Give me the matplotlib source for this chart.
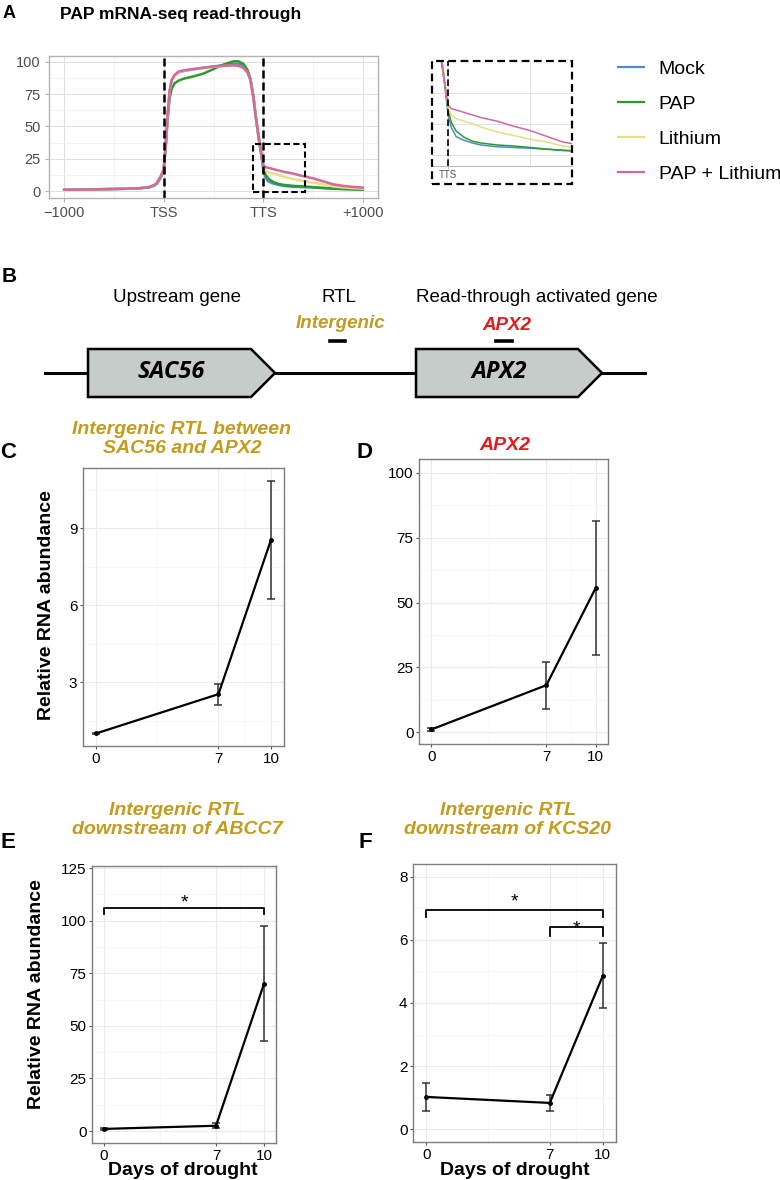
import matplotlib
matplotlib.use("Agg")
import matplotlib.pyplot as plt
from matplotlib.patches import Rectangle, Polygon
from matplotlib.lines import Line2D

plt.rcParams['font.family'] = ['Liberation Sans', 'DejaVu Sans']

W, H = 780, 1180

# ---- Panel A: metagene read-through profiles ----
bins = [0.0, 0.2, 0.4, 0.6, 0.75, 0.85, 0.9, 0.93, 0.96, 0.98, 1.0, 1.02, 1.04, 1.06, 1.08,
        1.11, 1.15, 1.2, 1.3, 1.4, 1.5, 1.6, 1.7, 1.75, 1.8, 1.84, 1.87, 1.9, 1.93, 1.96,
        1.98, 2.0, 2.02, 2.05, 2.1, 2.15, 2.2, 2.3, 2.4, 2.5, 2.6, 2.7, 2.8, 2.9, 3.0]
mock = [1.0, 1.1, 1.4, 1.7, 2.1, 2.9, 4.2, 5.8, 9.5, 12.5, 16.5, 34, 58, 77, 85.5,
        89.5, 92, 93, 94.3, 95.5, 96.5, 97.5, 98.5, 98.5, 97, 93, 86.5, 73, 54, 38,
        28, 16, 11, 7.3, 5.8, 4.8, 4.0, 3.3, 3.0, 2.7, 2.3, 1.8, 1.5, 1.3, 1.1]
pap = [1.0, 1.1, 1.4, 1.7, 2.0, 2.8, 4.0, 5.5, 9.0, 12.0, 16.0, 33, 55, 72, 79,
       83.5, 85.5, 87, 88.8, 91, 94.5, 98, 100.5, 100.5, 98.5, 94, 87, 74, 54, 37,
       28, 18, 13, 9.5, 7.0, 5.5, 4.8, 4.0, 3.6, 3.0, 2.4, 1.9, 1.6, 1.3, 1.1]
lithium = [1.0, 1.1, 1.5, 1.8, 2.2, 3.0, 4.4, 6.0, 10, 13, 17, 35, 59, 77.5, 85.5,
           89.5, 92, 93.2, 94.3, 95.3, 96.3, 96.8, 97.2, 96.8, 95.3, 91.8, 86, 72, 54, 39,
           29, 19, 16, 14.5, 13.5, 12.5, 11.2, 9.2, 7.8, 6.3, 5.2, 3.6, 2.8, 2.2, 1.8]
pap_li = [1.0, 1.1, 1.5, 1.8, 2.2, 3.0, 4.5, 6.0, 10, 13, 17, 35, 60, 78, 86,
          90, 92.5, 93.5, 94.5, 95.5, 96.5, 97, 97.5, 97, 95.5, 92, 86, 72, 54, 39,
          29, 20, 18.5, 18, 17, 16, 15, 13.5, 11.5, 9.8, 7.5, 5.2, 4.0, 3.2, 2.6]
series_names = ['Mock', 'PAP', 'Lithium', 'PAP + Lithium']
series_vals = [mock, pap, lithium, pap_li]
series_cols = ['#4B8BD4', '#2E9A2E', '#E8DE84', '#D4679E']
a_ticks = [0, 1, 2, 3]
a_ticklabels = ['\u22121000', 'TSS', 'TTS', '+1000']

# ---- Panel B: gene schematic ----
gene_names = ['SAC56', 'APX2']
gene_start = [88, 416]
gene_end = [275, 602]

# ---- Panels C-F: qPCR time course ----
days = [0, 7, 10]
c_mean = [1.0, 2.53, 8.53]
c_sd = [0.02, 0.41, 2.31]
d_mean = [1.0, 18.1, 55.6]
d_sd = [0.5, 9.1, 25.7]
e_mean = [1.0, 2.5, 70.0]
e_sd = [0.3, 1.2, 27.3]
f_mean = [1.02, 0.83, 4.86]
f_sd = [0.44, 0.25, 1.03]

GOLD = '#C39B1F'
RED = '#E41A1C'

fig = plt.figure(figsize=(W / 100, H / 100), dpi=100)


def px_axes(l, t, r, b):
    return fig.add_axes([l / W, 1 - b / H, (r - l) / W, (b - t) / H])


def ftext(x, y, s, **kw):
    fig.text(x / W, 1 - y / H, s, **kw)


# Panel A main
ax = px_axes(49, 56, 378, 198)
for name, vals, col in zip(series_names, series_vals, series_cols):
    ax.plot(bins, vals, color=col, lw=1.8, label=name, solid_capstyle='round')
ax.set_xlim(-0.15, 3.15)
ax.set_ylim(-5.4, 104.6)
ax.set_xticks(a_ticks)
ax.set_xticklabels(a_ticklabels)
ax.set_xticks([0.5, 1.5, 2.5], minor=True)
ax.set_yticks([0, 25, 50, 75, 100])
ax.set_yticks([12.5, 37.5, 62.5, 87.5], minor=True)
ax.grid(which='major', color='#DEDEDE', lw=0.7)
ax.grid(which='minor', color='#EFEFEF', lw=0.5)
ax.set_axisbelow(True)
ax.tick_params(which='major', length=3, color='#B3B3B3', labelsize=10.5,
               labelcolor='#4D4D4D', pad=3)
ax.tick_params(which='minor', length=0)
for sp in ax.spines.values():
    sp.set_color('#B3B3B3')
    sp.set_linewidth(1)
ax.axvline(1, color='black', lw=1.8, ls=(0, (3.2, 1.6)))
ax.axvline(2, color='black', lw=1.8, ls=(0, (3.2, 1.6)))
ax.add_patch(Rectangle((1.893, -0.8), 0.524, 37.2, fill=False, ec='black',
                       lw=1.5, ls=(0, (3, 1.6)), zorder=5))

ftext(9, 14, 'A', fontsize=13, fontweight='bold', ha='center', va='center')
ftext(60, 14, 'PAP mRNA-seq read-through', fontsize=12.5, fontweight='bold',
      ha='left', va='center')

# Panel A inset
axi = px_axes(432, 61, 572, 166)
for vals, col in zip(series_vals, series_cols):
    axi.plot(bins, vals, color=col, lw=1.1)
axi.set_xlim(1.902, 2.756)
axi.set_ylim(-4.4, 37.6)
axi.set_yticks([0, 12.5, 25])
axi.set_xticks([2.0])
axi.set_xticklabels(['TTS'])
axi.grid(which='major', color='#E3E3E3', lw=0.7)
axi.axvline(2.5, color='#E3E3E3', lw=0.7, zorder=0)
axi.set_axisbelow(True)
axi.tick_params(axis='y', length=0, labelleft=False)
axi.tick_params(axis='x', length=2, color='#BDBDBD', labelsize=7,
                labelcolor='#555555', pad=1)
for k in ['top', 'left', 'right']:
    axi.spines[k].set_visible(False)
axi.spines['bottom'].set_color('#BDBDBD')
axi.axvline(2.0, color='black', lw=1.2, ls=(0, (4, 2)))
fig.add_artist(Rectangle((432 / W, 1 - 184 / H), 140 / W, 123 / H, fill=False,
                         ec='black', lw=1.6, ls=(0, (3.5, 2)),
                         transform=fig.transFigure))

handles = [Line2D([], [], color=c, lw=1.6) for c in series_cols]
fig.legend(handles, series_names, loc='center left',
           bbox_to_anchor=(618 / W, 1 - 121.5 / H), frameon=False, fontsize=14,
           handlelength=1.35, handletextpad=0.75, labelspacing=0.9,
           borderpad=0, borderaxespad=0)

# Panel B
axb = px_axes(0, 260, 780, 410)
axb.set_xlim(0, 780)
axb.set_ylim(410, 260)
axb.axis('off')
axb.plot([45, 645], [373, 373], color='black', lw=2.2, zorder=1)
for name, s, e in zip(gene_names, gene_start, gene_end):
    poly = Polygon([(s, 349), (e - 24, 349), (e, 373), (e - 24, 397), (s, 397)],
                   closed=True, fc='#C5CCCA', ec='black', lw=1.8, zorder=2)
    axb.add_patch(poly)
    axb.text((s + e - 24) / 2 + 2, 372, name, fontsize=17, fontweight='bold',
             fontstyle='italic', family=['Open Sans', 'DejaVu Sans'],
             ha='center', va='center', zorder=3)
axb.plot([330, 345], [341, 341], color='black', lw=2.6)
axb.plot([496, 512], [341, 341], color='black', lw=2.6)
ftext(9, 277, 'B', fontsize=15, fontweight='bold', ha='center', va='center')
ftext(177, 298, 'Upstream gene', fontsize=13.5, ha='center', va='center')
ftext(339, 298, 'RTL', fontsize=13.5, ha='center', va='center')
ftext(537, 298, 'Read-through activated gene', fontsize=13.5, ha='center', va='center')
ftext(340, 323, 'Intergenic', fontsize=13.5, fontweight='bold', fontstyle='italic',
      color=GOLD, ha='center', va='center')
ftext(507, 326, 'APX2', fontsize=13.5, fontweight='bold', fontstyle='italic',
      color=RED, ha='center', va='center')


def time_panel(box, mean, sd, ylim, yticks, yminor):
    a = px_axes(*box)
    a.errorbar(days, mean, yerr=sd, fmt='-o', color='black', ms=2.5, lw=1.6,
               ecolor='#333333', elinewidth=1.1, capsize=3.2, capthick=1.1)
    a.set_xlim(-0.75, 10.75)
    a.set_xticks(days)
    a.set_xticks([3.5, 8.5], minor=True)
    a.set_ylim(*ylim)
    a.set_yticks(yticks)
    a.set_yticks(yminor, minor=True)
    a.grid(which='major', color='#EBEBEB', lw=0.8)
    a.grid(which='minor', color='#F5F5F5', lw=0.5)
    a.set_axisbelow(True)
    a.tick_params(which='major', length=2.5, color='#555555', labelsize=11,
                  labelcolor='black', pad=1.5)
    a.tick_params(which='minor', length=0)
    for sp in a.spines.values():
        sp.set_color('#7F7F7F')
        sp.set_linewidth(1)
    return a


def bracket(a, x0, x1, y, drop, ystar):
    a.plot([x0, x0, x1, x1], [y - drop, y, y, y - drop], color='black', lw=1.3)
    a.annotate('*', xy=((x0 + x1) / 2, ystar), xytext=(0, -8.5), textcoords='offset points',
               ha='center', va='baseline', fontsize=14)


# Panel C
axc = time_panel((83, 468, 284, 746), c_mean, c_sd, (0.51, 11.34), [3, 6, 9],
                 [1.5, 4.5, 7.5, 10.5])
ftext(8, 452, 'C', fontsize=16, fontweight='bold', ha='center', va='center')
ftext(182, 439, 'Intergenic RTL between\nSAC56 and APX2', fontsize=14, fontweight='bold',
      fontstyle='italic', color=GOLD, ha='center', va='center', linespacing=1.2)
ftext(47, 605, 'Relative RNA abundance', fontsize=14, fontweight='bold',
      rotation=90, ha='center', va='center')

# Panel D
axd = time_panel((419, 459, 608, 744), d_mean, d_sd, (-4.6, 105.4),
                 [0, 25, 50, 75, 100], [12.5, 37.5, 62.5, 87.5])
ftext(365, 452, 'D', fontsize=16, fontweight='bold', ha='center', va='center')
ftext(505, 445, 'APX2', fontsize=14, fontweight='bold', fontstyle='italic',
      color=RED, ha='center', va='center')

# Panel E
axe = time_panel((92, 866, 276, 1143), e_mean, e_sd, (-5.7, 126),
                 [0, 25, 50, 75, 100, 125], [12.5, 37.5, 62.5, 87.5, 112.5])
bracket(axe, 0, 10, 106, 3, 112)
ftext(8, 842, 'E', fontsize=16, fontweight='bold', ha='center', va='center')
ftext(177, 820, 'Intergenic RTL\ndownstream of ABCC7', fontsize=14, fontweight='bold',
      fontstyle='italic', color=GOLD, ha='center', va='center', linespacing=1.2)
ftext(37, 994, 'Relative RNA abundance', fontsize=14, fontweight='bold',
      rotation=90, ha='center', va='center')
ftext(183, 1175, 'Days of drought', fontsize=14, fontweight='bold',
      ha='center', va='baseline')

# Panel F
axf = time_panel((413, 864, 616, 1142), f_mean, f_sd, (-0.41, 8.41),
                 [0, 2, 4, 6, 8], [1, 3, 5, 7])
bracket(axf, 0, 10, 6.95, 0.22, 7.43)
bracket(axf, 7, 10, 6.4, 0.27, 6.58)
ftext(365, 842, 'F', fontsize=16, fontweight='bold', ha='center', va='center')
ftext(508, 820, 'Intergenic RTL\ndownstream of KCS20', fontsize=14, fontweight='bold',
      fontstyle='italic', color=GOLD, ha='center', va='center', linespacing=1.2)
ftext(515, 1175, 'Days of drought', fontsize=14, fontweight='bold',
      ha='center', va='baseline')

fig.savefig('out.png', dpi=100, facecolor='white')
